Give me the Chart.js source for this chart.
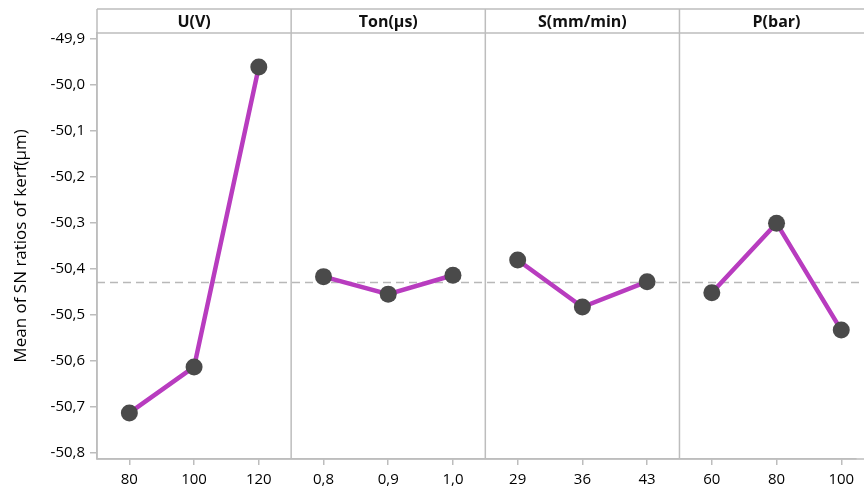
<!DOCTYPE html>
<html>
<head>
<meta charset="utf-8">
<script src="https://cdn.jsdelivr.net/npm/chart.js@4"></script>
<style>
  body { margin: 0; background: #fff; overflow: hidden; }
</style>
</head>
<body>
<canvas id="chart" width="864" height="493"></canvas>
<script>
// factors and their levels
const panels = ["U(V)", "Ton(µs)", "S(mm/min)", "P(bar)"]
const levelLabels = [["80", "100", "120"], ["0,8", "0,9", "1,0"], ["29", "36", "43"], ["60", "80", "100"]]

// mean SN ratio per level
const snU = [-50.713, -50.613, -49.962]
const snTon = [-50.417, -50.455, -50.414]
const snS = [-50.381, -50.483, -50.428]
const snP = [-50.452, -50.301, -50.533]
const meanSN = -50.43

const yTicks = [-50.8, -50.7, -50.6, -50.5, -50.4, -50.3, -50.2, -50.1, -50.0, -49.9]

const lineColor = "#b83cbf"
const pointColor = "#4a4a4a"
const frameColor = "#bdbdbd"
const font = "'Open Sans', 'DejaVu Sans', sans-serif"

const allSeries = [snU, snTon, snS, snP]
const flatLabels = levelLabels.flat()

const datasets = allSeries.map((vals, i) => ({
    data: vals.map((v, j) => ({ x: i * 3 + j + 0.5, y: v })),
    borderColor: lineColor,
    borderWidth: 4.5,
    pointRadius: 8.5,
    pointBackgroundColor: pointColor,
    pointBorderColor: pointColor,
    pointBorderWidth: 0,
    order: 0
}))

// grand mean, dashed
datasets.push({
    data: [{ x: 0, y: meanSN }, { x: 12, y: meanSN }],
    borderColor: "#b8b8b8",
    borderWidth: 1.5,
    borderDash: [8, 5],
    pointRadius: 0,
    clip: false,
    order: 1
})

// header strip + panel borders
const panelFrame = {
    id: "panelFrame",
    beforeDatasetsDraw(chart) {
        const { ctx, chartArea: { left, top, bottom }, scales: { x } } = chart
        const headTop = top - 24
        ctx.save()
        ctx.strokeStyle = frameColor
        ctx.lineWidth = 1.5
        ctx.beginPath()
        ctx.moveTo(left, headTop); ctx.lineTo(chart.width, headTop)
        ctx.moveTo(left, top); ctx.lineTo(chart.width, top)
        ctx.moveTo(left, bottom); ctx.lineTo(chart.width, bottom)
        ;[0, 3, 6, 9, 12].forEach(v => {
            const px = x.getPixelForValue(v)
            ctx.moveTo(px, headTop); ctx.lineTo(px, bottom)
        })
        ctx.stroke()

        ctx.fillStyle = "#111"
        ctx.font = "bold 16px " + font
        ctx.textAlign = "center"
        ctx.textBaseline = "middle"
        panels.forEach((p, i) => {
            ctx.fillText(p, x.getPixelForValue(i * 3 + 1.5), (headTop + top) / 2 + 1)
        })
        ctx.restore()
    }
}

new Chart(document.getElementById("chart"), {
    type: "line",
    data: { datasets },
    options: {
        responsive: false,
        animation: false,
        layout: { padding: { top: 33, right: 0, left: 0, bottom: 0 } },
        plugins: { legend: { display: false }, tooltip: { enabled: false } },
        scales: {
            x: {
                type: "linear",
                min: 0,
                max: 11.72,
                afterBuildTicks: s => { s.ticks = flatLabels.map((l, i) => ({ value: Math.floor(i / 3) * 3 + (i % 3) + 0.5 })) },
                afterFit: s => { s.height = 34 },
                ticks: {
                    callback: (v, i) => flatLabels[i],
                    color: "#000",
                    font: { family: font, size: 15 },
                    padding: 6,
                    maxRotation: 0,
                    autoSkip: false
                },
                grid: { drawOnChartArea: false, tickLength: 6, color: frameColor, lineWidth: 1.5 },
                border: { color: frameColor, width: 1.5 }
            },
            y: {
                min: -50.813,
                max: -49.888,
                afterBuildTicks: s => { s.ticks = yTicks.map(v => ({ value: v })) },
                afterFit: s => { s.width = 97 },
                ticks: {
                    callback: v => v.toFixed(1).replace(".", ","),
                    color: "#000",
                    font: { family: font, size: 15 },
                    padding: 5
                },
                grid: { drawOnChartArea: false, tickLength: 7, color: frameColor, lineWidth: 1.5 },
                border: { color: frameColor, width: 1.5 },
                title: {
                    display: true,
                    text: "Mean of SN ratios of kerf(µm)",
                    color: "#000",
                    font: { family: font, size: 17 },
                    padding: { top: 11, bottom: 0 }
                }
            }
        }
    },
    plugins: [panelFrame]
})
</script>
</body>
</html>
